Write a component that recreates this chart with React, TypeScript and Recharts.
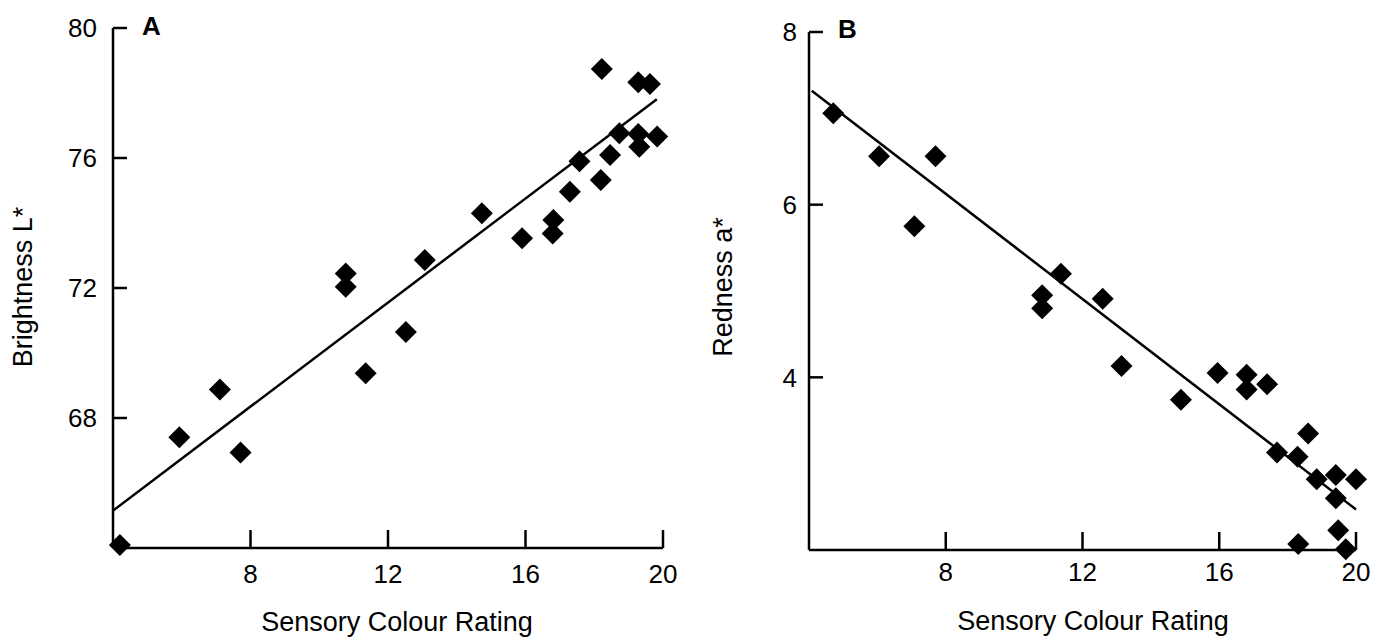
import React from "react";
import { ScatterChart, Scatter, XAxis, YAxis } from "recharts";

// ---- Panel A data: Sensory Colour Rating vs Brightness L*
const sensoryA = [4.2, 5.93, 7.11, 7.71, 10.77, 10.77, 11.35, 12.52, 13.07, 14.73, 15.9, 16.79, 16.81, 17.29, 17.57, 18.19, 18.22, 18.46, 18.73, 19.28, 19.28, 19.31, 19.62, 19.83];
const brightness = [64.09, 67.41, 68.88, 66.94, 72.04, 72.45, 69.38, 70.65, 72.86, 74.3, 73.53, 73.68, 74.09, 74.96, 75.9, 75.32, 78.74, 76.09, 76.76, 78.33, 76.74, 76.35, 78.28, 76.66];
const fitAx = [4.0, 19.82];
const fitAy = [65.15, 77.81];

// ---- Panel B data: Sensory Colour Rating vs Redness a*
const sensoryB = [4.71, 6.05, 7.08, 7.7, 10.82, 10.82, 11.37, 12.59, 13.14, 14.88, 15.95, 16.8, 16.8, 17.4, 17.69, 18.29, 18.31, 18.6, 18.85, 19.41, 19.41, 19.48, 19.7, 20.0];
const redness = [7.06, 6.56, 5.75, 6.56, 4.8, 4.95, 5.2, 4.91, 4.13, 3.74, 4.05, 4.03, 3.86, 3.92, 3.13, 3.08, 2.07, 3.35, 2.82, 2.87, 2.6, 2.23, 2.01, 2.82];
const fitBx = [4.08, 20.0];
const fitBy = [7.32, 2.47];

// ---- Axes
const xTicks = [8, 12, 16, 20];
const xDomain = [4, 20];
const yTicksA = [68, 72, 76, 80];
const yDomainA = [64, 80];
const yTicksB = [4, 6, 8];
const yDomainB = [2, 8];

const xTitle = "Sensory Colour Rating";
const yTitleA = "Brightness L*";
const yTitleB = "Redness a*";
const panelA = "A";
const panelB = "B";

const toPoints = (xs: number[], ys: number[]) => xs.map((x, i) => ({ x, y: ys[i] }));

const FONT = "'Liberation Sans', Arial, Helvetica, sans-serif";
const W = 691;
const H = 638;

const Diamond = (props: any) => {
  const { cx, cy } = props;
  if (cx == null || cy == null) return <g />;
  const r = 11;
  return <path d={`M${cx},${cy - r}L${cx + r},${cy}L${cx},${cy + r}L${cx - r},${cy}Z`} fill="#000" />;
};

const NoShape = () => <g />;

const makeYTick = (gap: number) => (props: any) => {
  const { x, y, payload } = props;
  return (
    <g>
      <line x1={x} x2={x + 14} y1={y} y2={y} stroke="#000" strokeWidth={2.5} />
      <text x={x - gap} y={y} dy="0.36em" textAnchor="end" fontSize={26} fontFamily={FONT} fill="#000">
        {payload.value}
      </text>
    </g>
  );
};

const makeXTick = (base: number) => (props: any) => {
  const { x, y, payload } = props;
  return (
    <g>
      <line x1={x} x2={x} y1={y} y2={y - 18} stroke="#000" strokeWidth={2.5} />
      <text x={x} y={y + base} textAnchor="middle" fontSize={26} fontFamily={FONT} fill="#000">
        {payload.value}
      </text>
    </g>
  );
};

type PanelProps = {
  xs: number[];
  ys: number[];
  fx: number[];
  fy: number[];
  yTicks: number[];
  yDomain: number[];
  yTitle: string;
  letter: string;
  margin: { top: number; right: number; bottom: number; left: number };
  yGap: number;
  xBase: number;
  yTitleX: number;
  yTitleY: number;
  letterX: number;
  letterY: number;
  xTitleX: number;
  xTitleY: number;
};

const Panel = (p: PanelProps) => {
  const yLabel = () => (
    <g>
      <text
        x={p.yTitleX}
        y={p.yTitleY}
        transform={`rotate(-90, ${p.yTitleX}, ${p.yTitleY})`}
        textAnchor="middle"
        fontSize={27}
        fontFamily={FONT}
        fill="#000"
      >
        {p.yTitle}
      </text>
      <text x={p.letterX} y={p.letterY} fontSize={26} fontWeight="bold" fontFamily={FONT} fill="#000">
        {p.letter}
      </text>
    </g>
  );
  const xLabel = () => (
    <text x={p.xTitleX} y={p.xTitleY} textAnchor="middle" fontSize={27} fontFamily={FONT} fill="#000">
      {xTitle}
    </text>
  );
  // axes take 1px so that they are rendered; the plot area stays at the given margins
  const m = { ...p.margin, left: p.margin.left - 1, bottom: p.margin.bottom - 1 };
  return (
    <ScatterChart width={W} height={H} margin={m}>
      <XAxis
        type="number"
        dataKey="x"
        domain={xDomain}
        ticks={xTicks}
        height={1}
        tickSize={0}
        tickMargin={0}
        tickLine={false}
        axisLine={{ stroke: "#000", strokeWidth: 2.5 }}
        tick={makeXTick(p.xBase)}
        label={xLabel}
        interval={0}
      />
      <YAxis
        type="number"
        dataKey="y"
        domain={p.yDomain}
        ticks={p.yTicks}
        width={1}
        tickSize={0}
        tickMargin={0}
        tickLine={false}
        axisLine={{ stroke: "#000", strokeWidth: 2.5 }}
        tick={makeYTick(p.yGap)}
        label={yLabel}
        interval={0}
      />
      <Scatter
        data={toPoints(p.fx, p.fy)}
        line={{ stroke: "#000", strokeWidth: 2.5 }}
        shape={NoShape}
        isAnimationActive={false}
      />
      <Scatter data={toPoints(p.xs, p.ys)} shape={Diamond} isAnimationActive={false} />
    </ScatterChart>
  );
};

export default function App() {
  return (
    <div style={{ position: "absolute", left: 0, top: 0, width: 1382, height: 638, background: "#fff", display: "flex" }}>
      <Panel
        xs={sensoryA}
        ys={brightness}
        fx={fitAx}
        fy={fitAy}
        yTicks={yTicksA}
        yDomain={yDomainA}
        yTitle={yTitleA}
        letter={panelA}
        margin={{ top: 28, right: 28, bottom: 90, left: 113 }}
        yGap={16}
        xBase={35}
        yTitleX={32}
        yTitleY={287}
        letterX={142}
        letterY={35}
        xTitleX={397}
        xTitleY={631}
      />
      <Panel
        xs={sensoryB}
        ys={redness}
        fx={fitBx}
        fy={fitBy}
        yTicks={yTicksB}
        yDomain={yDomainB}
        yTitle={yTitleB}
        letter={panelB}
        margin={{ top: 32, right: 26, bottom: 88, left: 118 }}
        yGap={12}
        xBase={31}
        yTitleX={41}
        yTitleY={287}
        letterX={147}
        letterY={38}
        xTitleX={402}
        xTitleY={630}
      />
    </div>
  );
}
